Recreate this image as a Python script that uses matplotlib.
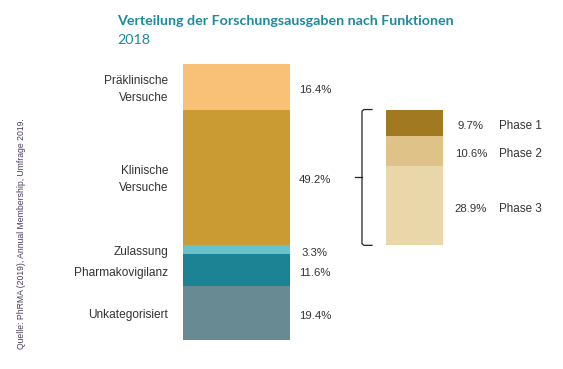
import matplotlib
matplotlib.use("Agg")
import matplotlib.pyplot as plt
import numpy as np

plt.rcParams["font.family"] = ["Liberation Sans", "DejaVu Sans"]

# main stack, from bottom to top
categories = ["Unkategorisiert", "Pharmakovigilanz", "Zulassung", "Klinische\nVersuche", "Präklinische\nVersuche"]
shares = [19.4, 11.6, 3.3, 49.2, 16.4]
colors = ["#678A93", "#1B8393", "#66C3CB", "#CB9B33", "#F9C077"]

# breakdown of the clinical trials, from bottom to top
phases = ["Phase 3", "Phase 2", "Phase 1"]
phase_shares = [28.9, 10.6, 9.7]
phase_colors = ["#E9D6A9", "#DEC288", "#A07921"]

TEXT = "#333333"
TEAL = "#1E8A9B"


def main():
    fig = plt.figure(figsize=(5.63, 3.69), dpi=100)
    ax = fig.add_axes([0, 0, 1, 1])
    # x in pixels, y in percent (2.76 px per %)
    scale = 2.76
    ax.set_xlim(0, 563)
    ax.set_ylim((340 - 369) / scale, 340 / scale)
    ax.axis("off")

    bottoms = np.concatenate([[0], np.cumsum(shares)[:-1]])
    ax.bar(236.5, shares, width=107, bottom=bottoms, color=colors, linewidth=0)
    for cat, v, b in zip(categories, shares, bottoms):
        mid = b + v / 2
        ax.text(168, mid - 0.8, cat, ha="right", va="center", fontsize=8.6, color=TEXT,
                linespacing=1.55)
        ax.text(315, mid - 1.0, f"{v}%", ha="center", va="center", fontsize=8.2, color=TEXT)

    # detail bar aligned with clinical trials segment
    clin = categories.index("Klinische\nVersuche")
    start = bottoms[clin]
    pb = start + np.concatenate([[0], np.cumsum(phase_shares)[:-1]])
    ax.bar(414.5, phase_shares, width=57, bottom=pb, color=phase_colors, linewidth=0)
    for ph, v, b in zip(phases, phase_shares, pb):
        mid = b + v / 2 - 1.2
        ax.text(471, mid, f"{v}%", ha="center", va="center", fontsize=8.2, color=TEXT)
        ax.text(499, mid, ph, ha="left", va="center", fontsize=8.4, color=TEXT)

    # bracket
    top = start + sum(phase_shares)
    bot = start
    midb = (top + bot) / 2
    ax.plot([372, 364, 362, 362, 364, 372], [top, top, top - 0.6, bot + 0.6, bot, bot],
            color="#222222", lw=0.9)
    ax.plot([362, 355], [midb, midb], color="#222222", lw=0.9)

    fig.text(117 / 563, 1 - 25 / 369, "Verteilung der Forschungsausgaben nach Funktionen",
             fontsize=10.3, fontweight="bold", color=TEAL, va="baseline",
             family=["Lato", "Liberation Sans"])
    fig.text(117 / 563, 1 - 44 / 369, "2018", fontsize=10.3, color=TEAL, va="baseline",
             family=["Lato", "Liberation Sans"])
    fig.text(22 / 563, 1 - 234 / 369, "Quelle: PhRMA (2019), Annual Membership, Umfrage 2019.",
             rotation=90, fontsize=6.2, color="#4a3a5a", ha="center", va="center")

    fig.savefig("out.png", dpi=100)


if __name__ == "__main__":
    main()
